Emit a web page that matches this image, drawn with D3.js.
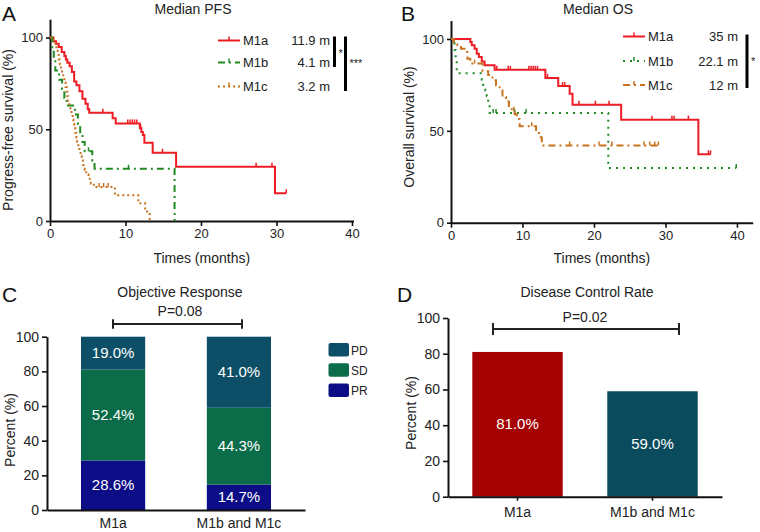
<!DOCTYPE html>
<html>
<head>
<meta charset="utf-8">
<script src="https://cdn.jsdelivr.net/npm/d3@7"></script>
<style>
body{margin:0;background:#fff;}
svg{font-family:"Liberation Sans",Arial,sans-serif;}
</style>
</head>
<body>
<svg id="fig" width="760" height="532"></svg>
<script>
// ---- panel A: progression-free survival (step times in months, survival %)
let pfsTimesM1a=[0,0.45,0.8,1.15,1.55,1.9,2.1,2.3,2.6,2.9,3.2,3.5,3.9,4.3,4.7,5.0,5.2,8.3,8.7,11.9,12.1,12.3,12.5,13.6,16.7,29.8];
let pfsSurvM1a=[100,98,96.6,94.8,92.1,89.9,88.1,86.3,84.3,81.2,76.1,74,70.7,66.6,63.9,60.9,59,56,53.2,50.5,48.5,46.9,42.7,37.2,29.6,15.1];
let pfsCensM1a=[7.0,10.3,10.6,10.9,11.2,11.5,12.0,14.9,27.3,29.4,31.3];

let pfsTimesM1b=[0,0.3,0.5,0.7,1.2,1.6,1.9,2.2,3.3,3.7,4.0,4.3,4.6,5.6,5.9,16.5];
let pfsSurvM1b=[100,94,88,82,77,72,67,63,58,53,47,43,38,33,28.5,0];
let pfsCensM1b=[5.1,10.4];

let pfsTimesM1c=[0,0.5,0.7,0.85,1.0,1.15,1.3,1.45,1.6,1.75,1.9,2.05,2.2,2.3,2.4,2.55,2.7,2.85,3.0,3.1,3.2,3.35,3.5,3.6,3.75,3.9,4.05,4.2,4.35,4.6,4.8,5.1,5.4,5.8,8.6,11.7,12.6,13.2];
let pfsSurvM1c=[100,97.5,95.5,93,90.5,88,85.5,83,80.5,78,75.5,73,70.5,68,65.5,63,60.5,58,55.5,53,50.5,48,45.5,43,40.5,38,35.5,33,30.5,28,25.5,23,20.5,18.5,14,9.7,5.2,0];
let pfsCensM1c=[6.5,7.1,7.7];

let pfsMedians=["11.9 m","4.1 m","3.2 m"];

// ---- panel B: overall survival
let osTimesM1a=[0,2.7,2.9,3.3,3.6,3.9,4.3,4.7,6.1,13.2,15.0,16.6,17.0,23.8,34.6];
let osSurvM1a=[100,98.4,96.6,94.7,92,90.2,87.8,85.7,83.2,78.8,74.4,70.2,64.2,56.1,37.2];
let osCensM1a=[6.4,8.0,8.3,10.9,11.2,11.5,11.8,12.1,13.5,15.6,15.9,17.9,20.2,22.1,28.1,30.9,31.2,33.2,36.0,36.3];

let osTimesM1b=[0,0.5,0.65,0.8,4.3,4.5,4.8,5.0,5.2,5.4,22.0];
let osSurvM1b=[100,94,88,81.3,78,75,72,69,65,59.7,29.8];
let osCensM1b=[5.9,6.3,8.9,10.5,39.9];

let osTimesM1c=[0,0.4,0.9,1.4,1.9,2.3,2.7,4.4,5.2,5.8,6.3,6.8,7.2,7.7,8.1,8.5,8.9,9.2,9.6,11.9,12.3,12.7];
let osSurvM1c=[100,98.4,96.6,94.7,92.9,89.3,86.6,82.5,80.4,77.5,74.8,72,68.4,66,63.5,61,59,56.5,52.5,49.4,46.5,42];
let osCensM1c=[3.3,8.8,11.3,16.6,20.7,22.5,27.0,27.8,28.5,29.0];

let osMedians=["35 m","22.1 m","12 m"];

let groupNames=["M1a","M1b","M1c"];
let kmTicksX=[0,10,20,30,40];
let kmTicksY=[0,50,100];

// ---- panel C: objective response (%)
let responseGroups=["M1a","M1b and M1c"];
let prValues=[28.6,14.7];
let sdValues=[52.4,44.3];
let pdValues=[19.0,41.0];
let responseKeys=["PR","SD","PD"];

// ---- panel D: disease control rate (%)
let dcrValues=[81.0,59.0];
let pctTicks=[0,20,40,60,80,100];

let svg=d3.select("#fig");
let red="#ed1c24",green="#218a21",orange="#c9731f";

function survAt(times,surv,t){
  let i=d3.bisectRight(times,t)-1;
  return surv[Math.max(i,0)];
}

function styleAxis(g,fs){
  g.select(".domain").attr("stroke","#111").attr("stroke-width",2);
  g.selectAll(".tick line").attr("stroke","#111").attr("stroke-width",1.6);
  g.selectAll(".tick text").attr("fill","#222").style("font-size",fs+"px");
}

function kmPanel(o){
  let x=d3.scaleLinear().domain([0,o.xMax]).range([o.x0,o.x1]);
  let y=d3.scaleLinear().domain([0,110]).range([o.y0,o.yTop]);
  let gx=svg.append("g").attr("transform","translate(0,"+o.y0+")")
    .call(d3.axisBottom(x).tickValues(kmTicksX).tickSize(5).tickSizeOuter(0).tickPadding(3));
  styleAxis(gx,13);
  let gy=svg.append("g").attr("transform","translate("+o.x0+",0)")
    .call(d3.axisLeft(y).tickValues(kmTicksY).tickSize(4).tickSizeOuter(0).tickPadding(3));
  styleAxis(gy,13);

  let line=d3.line().x(d=>x(d[0])).y(d=>y(d[1])).curve(d3.curveStepAfter);
  o.series.forEach(s=>{
    let pts=s.times.map((t,i)=>[t,s.surv[i]]);
    let end=d3.max(s.cens.concat(s.times));
    if(end>s.times[s.times.length-1]) pts.push([end,s.surv[s.surv.length-1]]);
    svg.append("path").datum(pts).attr("d",line).attr("fill","none")
      .attr("stroke",s.color).attr("stroke-width",2).attr("stroke-dasharray",s.dash);
    svg.selectAll(null).data(s.cens).enter().append("line")
      .attr("x1",d=>x(d)).attr("x2",d=>x(d))
      .attr("y1",d=>y(survAt(s.times,s.surv,d)))
      .attr("y2",d=>y(survAt(s.times,s.surv,d))-4)
      .attr("stroke",s.color).attr("stroke-width",1.5);
  });

  // legend
  o.series.forEach((s,i)=>{
    let ly=o.legY[i];
    svg.append("line").attr("x1",o.legX).attr("x2",o.legX+22).attr("y1",ly).attr("y2",ly)
      .attr("stroke",s.color).attr("stroke-width",2).attr("stroke-dasharray",s.dash);
    svg.append("line").attr("x1",o.legX+11).attr("x2",o.legX+11).attr("y1",ly).attr("y2",ly-4)
      .attr("stroke",s.color).attr("stroke-width",1.5);
    svg.append("text").attr("x",o.legX+25).attr("y",ly+4.5).text(groupNames[i])
      .style("font-size","13px").attr("fill","#222");
    svg.append("text").attr("x",o.medX).attr("y",ly+4.5).attr("text-anchor","end").text(o.medians[i])
      .style("font-size","13px").attr("fill","#222");
  });
  o.bars.forEach(b=>{
    svg.append("line").attr("x1",b.x).attr("x2",b.x).attr("y1",b.y1).attr("y2",b.y2)
      .attr("stroke","#000").attr("stroke-width",3);
    svg.append("text").attr("x",b.x+4).attr("y",b.ty).text(b.label)
      .style("font-size","11px").attr("fill","#222");
  });

  svg.append("text").attr("x",o.titleX).attr("y",14).attr("text-anchor","middle").text(o.title)
    .style("font-size","14px").attr("fill","#222");
  svg.append("text").attr("x",(o.x0+o.x1)/2).attr("y",263).attr("text-anchor","middle").text("Times (months)")
    .style("font-size","14px").attr("fill","#222");
  svg.append("text").attr("transform","translate("+o.yLabX+","+o.yLabY+") rotate(-90)")
    .attr("text-anchor","middle").text(o.yLabel).style("font-size","14px").attr("fill","#222");
  svg.append("text").attr("x",o.letterX).attr("y",20.5).text(o.letter)
    .style("font-size","21px").attr("fill","#111");
}

kmPanel({
  xMax:40.2,x0:50,x1:353.5,y0:221,yTop:19.2,
  series:[
    {times:pfsTimesM1a,surv:pfsSurvM1a,cens:pfsCensM1a,color:red,dash:null},
    {times:pfsTimesM1b,surv:pfsSurvM1b,cens:pfsCensM1b,color:green,dash:"7,4,2,4"},
    {times:pfsTimesM1c,surv:pfsSurvM1c,cens:pfsCensM1c,color:orange,dash:"2,3"}
  ],
  legX:218,legY:[40.5,62.5,86.5],medX:330,medians:pfsMedians,
  bars:[{x:334.5,y1:36.5,y2:67,label:"*",ty:57},{x:345.5,y1:36.5,y2:91,label:"***",ty:67}],
  title:"Median PFS",titleX:193,yLabel:"Progress-free survival (%)",yLabX:13,yLabY:130,
  letter:"A",letterX:2
});

kmPanel({
  xMax:42.2,x0:451,x1:752.7,y0:222.7,yTop:20.6,
  series:[
    {times:osTimesM1a,surv:osSurvM1a,cens:osCensM1a,color:red,dash:null},
    {times:osTimesM1b,surv:osSurvM1b,cens:osCensM1b,color:green,dash:"2,5"},
    {times:osTimesM1c,surv:osSurvM1c,cens:osCensM1c,color:orange,dash:"7,4,2,4"}
  ],
  legX:623,legY:[36.5,61,85],medX:738,medians:osMedians,
  bars:[{x:747,y1:34.5,y2:88,label:"*",ty:65}],
  title:"Median OS",titleX:598,yLabel:"Overall survival (%)",yLabX:414,yLabY:127,
  letter:"B",letterX:401
});

// ---- panel C: stacked bars
let xC=d3.scaleBand().domain(responseGroups).range([47,305]).paddingInner(0.49).paddingOuter(0.27);
let yC=d3.scaleLinear().domain([0,100]).range([510,336.7]);
let respColors={PR:"#0c0c86",SD:"#0a6c48",PD:"#0d4f66"};
let respRows=responseGroups.map((g,i)=>({group:g,PR:prValues[i],SD:sdValues[i],PD:pdValues[i]}));
let stackC=d3.stack().keys(responseKeys)(respRows);

stackC.forEach(layer=>{
  svg.selectAll(null).data(layer).enter().append("rect")
    .attr("x",d=>xC(d.data.group)).attr("width",xC.bandwidth())
    .attr("y",d=>yC(d[1])).attr("height",d=>yC(d[0])-yC(d[1]))
    .attr("fill",respColors[layer.key]);
  svg.selectAll(null).data(layer).enter().append("text")
    .attr("x",d=>xC(d.data.group)+xC.bandwidth()/2).attr("y",d=>yC((d[0]+d[1])/2)+5)
    .attr("text-anchor","middle").text(d=>d.data[layer.key].toFixed(1)+"%")
    .style("font-size","15px").attr("fill","#fff");
});

let gxC=svg.append("g").attr("transform","translate(0,510)")
  .call(d3.axisBottom(xC).tickSize(0).tickPadding(8).tickSizeOuter(0));
styleAxis(gxC,14);
let gyC=svg.append("g").attr("transform","translate(47,0)")
  .call(d3.axisLeft(yC).tickValues(pctTicks).tickSize(5).tickSizeOuter(0).tickPadding(3));
styleAxis(gyC,14);

["PD","SD","PR"].forEach((k,i)=>{
  let ly=343+i*20.3;
  svg.append("rect").attr("x",328.5).attr("y",ly).attr("width",20.5).attr("height",13.5)
    .attr("rx",2).attr("fill",respColors[k]);
  svg.append("text").attr("x",351).attr("y",ly+11.5).text(k).style("font-size","12px").attr("fill","#222");
});

function bracket(xa,xb,yb,h){
  svg.append("path").attr("d","M"+xa+","+(yb-h)+"V"+(yb+h)+"M"+xa+","+yb+"H"+xb+"M"+xb+","+(yb-h)+"V"+(yb+h))
    .attr("stroke","#222").attr("stroke-width",2).attr("fill","none");
}
bracket(113,242,324,4.7);

svg.append("text").attr("x",180).attr("y",296.7).attr("text-anchor","middle").text("Objective Response")
  .style("font-size","14px").attr("fill","#222");
svg.append("text").attr("x",180).attr("y",315.7).attr("text-anchor","middle").text("P=0.08")
  .style("font-size","14px").attr("fill","#222");
svg.append("text").attr("transform","translate(15,430) rotate(-90)").attr("text-anchor","middle")
  .text("Percent (%)").style("font-size","14px").attr("fill","#222");
svg.append("text").attr("x",2).attr("y",301.7).text("C").style("font-size","21px").attr("fill","#111");

// ---- panel D: disease control rate
let xD=d3.scaleBand().domain(responseGroups).range([448,722]).paddingInner(0.33).paddingOuter(0.18);
let yD=d3.scaleLinear().domain([0,100]).range([496.7,318]);
let dcrColors=["#a50303","#0b4b5e"];

svg.selectAll(null).data(dcrValues).enter().append("rect")
  .attr("x",(d,i)=>xD(responseGroups[i])).attr("width",xD.bandwidth())
  .attr("y",d=>yD(d)).attr("height",d=>yD(0)-yD(d)).attr("fill",(d,i)=>dcrColors[i]);
svg.selectAll(null).data(dcrValues).enter().append("text")
  .attr("x",(d,i)=>xD(responseGroups[i])+xD.bandwidth()/2).attr("y",d=>yD(d/2)+5)
  .attr("text-anchor","middle").text(d=>d.toFixed(1)+"%").style("font-size","15px").attr("fill","#fff");

let gxD=svg.append("g").attr("transform","translate(0,496.7)")
  .call(d3.axisBottom(xD).tickSize(4).tickPadding(6).tickSizeOuter(0));
styleAxis(gxD,14);
let gyD=svg.append("g").attr("transform","translate(448,0)")
  .call(d3.axisLeft(yD).tickValues(pctTicks).tickSize(5).tickSizeOuter(0).tickPadding(3));
styleAxis(gyD,14);

bracket(493,679,329,6);
svg.append("text").attr("x",587).attr("y",296.7).attr("text-anchor","middle").text("Disease Control Rate")
  .style("font-size","14px").attr("fill","#222");
svg.append("text").attr("x",585).attr("y",321.7).attr("text-anchor","middle").text("P=0.02")
  .style("font-size","14px").attr("fill","#222");
svg.append("text").attr("transform","translate(416,413) rotate(-90)").attr("text-anchor","middle")
  .text("Percent (%)").style("font-size","14px").attr("fill","#222");
svg.append("text").attr("x",397).attr("y",301.7).text("D").style("font-size","21px").attr("fill","#111");
</script>
</body>
</html>
